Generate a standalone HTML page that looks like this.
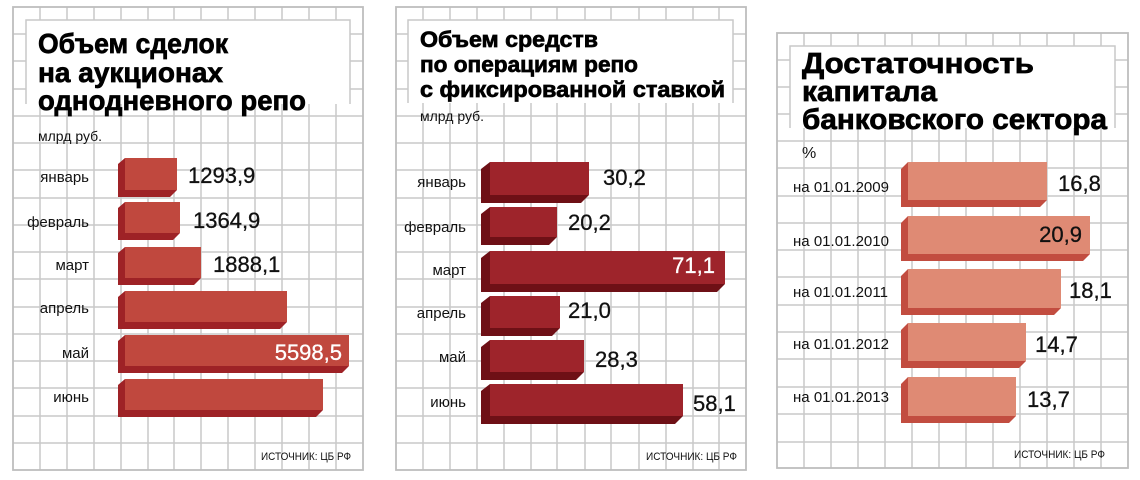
<!DOCTYPE html>
<html><head><meta charset="utf-8"><style>
html,body{margin:0;padding:0;background:#fff;}
svg{display:block;font-family:"Liberation Sans","DejaVu Sans",sans-serif;}
.g{stroke:#c9c9c9;stroke-width:1.5;fill:none;}
.b{stroke:#bdbdbd;stroke-width:1.8;fill:none;}
.t{font-weight:bold;fill:#000;stroke:#000;stroke-width:0.7;}
.l{font-size:15px;fill:#111;}
.v{font-size:22px;fill:#111;stroke:#111;stroke-width:0.3;}
.s{font-size:11px;fill:#111;}
</style></head><body>
<svg width="1140" height="480" viewBox="0 0 1140 480" xmlns="http://www.w3.org/2000/svg">
<rect width="1140" height="480" fill="#fff"/>
<path class="g" d="M40 7V470M67 7V470M94 7V470M121 7V470M148 7V470M174 7V470M201 7V470M228 7V470M255 7V470M282 7V470M309 7V470M336 7V470
M13 34H363M13 61H363M13 89H363M13 116H363M13 143H363M13 170H363M13 198H363M13 225H363M13 252H363M13 279H363M13 307H363M13 334H363M13 361H363M13 388H363M13 416H363M13 443H363"/>
<rect class="b" x="13" y="7" width="350" height="463"/>
<path class="g" d="M423 7V470M450 7V470M477 7V470M504 7V470M531 7V470M557 7V470M585 7V470M611 7V470M639 7V470M666 7V470M693 7V470M719 7V470
M396 34H746M396 61H746M396 89H746M396 116H746M396 143H746M396 170H746M396 198H746M396 225H746M396 252H746M396 279H746M396 307H746M396 334H746M396 361H746M396 388H746M396 416H746M396 443H746"/>
<rect class="b" x="396" y="7" width="350" height="463"/>
<path class="g" d="M804 33V468M831 33V468M858 33V468M885 33V468M912 33V468M939 33V468M966 33V468M993 33V468M1020 33V468M1047 33V468M1074 33V468M1101 33V468
M777 60H1128M777 87H1128M777 114H1128M777 141H1128M777 168H1128M777 196H1128M777 223H1128M777 250H1128M777 277H1128M777 305H1128M777 332H1128M777 359H1128M777 387H1128M777 414H1128M777 442H1128"/>
<rect class="b" x="777" y="33" width="351" height="435"/>

<rect x="26" y="20" width="324" height="84" fill="#fff"/>
<path d="M26 104V20H350V104" stroke="#c9c9c9" stroke-width="1.5" fill="none"/>
<rect x="408" y="20" width="325" height="83" fill="#fff"/>
<path d="M408 103V20H733V103" stroke="#c9c9c9" stroke-width="1.5" fill="none"/>
<rect x="790" y="46" width="325" height="82" fill="#fff"/>
<path d="M790 128V46H1115V128" stroke="#c9c9c9" stroke-width="1.5" fill="none"/>

<text class="t" font-size="28" x="38" y="53" textLength="190" lengthAdjust="spacingAndGlyphs">Объем сделок</text>
<text class="t" font-size="28" x="38" y="82" textLength="185" lengthAdjust="spacingAndGlyphs">на аукционах</text>
<text class="t" font-size="28" x="38" y="110" textLength="268" lengthAdjust="spacingAndGlyphs">однодневного репо</text>

<text class="t" font-size="22" x="420" y="47" textLength="178" lengthAdjust="spacingAndGlyphs">Объем средств</text>
<text class="t" font-size="22" x="420" y="72" textLength="218" lengthAdjust="spacingAndGlyphs">по операциям репо</text>
<text class="t" font-size="22" x="420" y="97" textLength="305" lengthAdjust="spacingAndGlyphs">с фиксированной ставкой</text>

<text class="t" font-size="29" x="802" y="73" textLength="232" lengthAdjust="spacingAndGlyphs">Достаточность</text>
<text class="t" font-size="29" x="802" y="101" textLength="135" lengthAdjust="spacingAndGlyphs">капитала</text>
<text class="t" font-size="29" x="802" y="129" textLength="305" lengthAdjust="spacingAndGlyphs">банковского сектора</text>

<text font-size="14" x="38" y="141" fill="#111">млрд руб.</text>
<text font-size="14" x="420" y="121" fill="#111">млрд руб.</text>
<text font-size="16" x="802" y="158" fill="#111">%</text>

<g fill="#9e2226">
<polygon points="118,164 125,158 125,190 177,190 170,197 118,197"/>
<polygon points="118,208 125,202 125,233 180,233 173,240 118,240"/>
<polygon points="118,253 125,247 125,278 201,278 194,285 118,285"/>
<polygon points="118,297 125,291 125,322 287,322 280,329 118,329"/>
<polygon points="118,341 125,335 125,366 349,366 342,373 118,373"/>
<polygon points="118,385 125,379 125,410 323,410 316,417 118,417"/>
</g>
<g fill="#c0483e">
<rect x="125" y="158" width="52" height="32"/>
<rect x="125" y="202" width="55" height="31"/>
<rect x="125" y="247" width="76" height="31"/>
<rect x="125" y="291" width="162" height="31"/>
<rect x="125" y="335" width="224" height="31"/>
<rect x="125" y="379" width="198" height="31"/>
</g>
<g class="l" text-anchor="end">
<text x="89" y="182">январь</text>
<text x="89" y="227">февраль</text>
<text x="89" y="270">март</text>
<text x="89" y="313">апрель</text>
<text x="89" y="358">май</text>
<text x="89" y="402">июнь</text>
</g>
<text class="v" x="188" y="183">1293,9</text>
<text class="v" x="193" y="228">1364,9</text>
<text class="v" x="213" y="272">1888,1</text>
<text class="v" x="342" y="360" text-anchor="end" style="fill:#fff;stroke:#fff">5598,5</text>
<text class="s" x="261" y="460" textLength="90" lengthAdjust="spacingAndGlyphs">ИСТОЧНИК: ЦБ РФ</text>

<g fill="#6e1016">
<polygon points="481,169 490,162 490,195 589,195 581,203 481,203"/>
<polygon points="481,214 490,207 490,237 557,237 549,245 481,245"/>
<polygon points="481,258 490,251 490,284 725,284 717,292 481,292"/>
<polygon points="481,303 490,296 490,328 560,328 552,336 481,336"/>
<polygon points="481,347 490,340 490,372 584,372 576,380 481,380"/>
<polygon points="481,391 490,384 490,416 683,416 675,424 481,424"/>
</g>
<g fill="#9e242b">
<rect x="490" y="162" width="99" height="33"/>
<rect x="490" y="207" width="67" height="30"/>
<rect x="490" y="251" width="235" height="33"/>
<rect x="490" y="296" width="70" height="32"/>
<rect x="490" y="340" width="94" height="32"/>
<rect x="490" y="384" width="193" height="32"/>
</g>
<g class="l" text-anchor="end">
<text x="466" y="187">январь</text>
<text x="466" y="232">февраль</text>
<text x="466" y="275">март</text>
<text x="466" y="318">апрель</text>
<text x="466" y="362">май</text>
<text x="466" y="407">июнь</text>
</g>
<text class="v" x="603" y="185">30,2</text>
<text class="v" x="568" y="230">20,2</text>
<text class="v" x="715" y="273" text-anchor="end" style="fill:#fff;stroke:#fff">71,1</text>
<text class="v" x="568" y="318">21,0</text>
<text class="v" x="595" y="367">28,3</text>
<text class="v" x="693" y="411">58,1</text>
<text class="s" x="646" y="460" textLength="91" lengthAdjust="spacingAndGlyphs">ИСТОЧНИК: ЦБ РФ</text>

<g fill="#c24d40">
<polygon points="901,169 908,162 908,200 1047,200 1040,207 901,207"/>
<polygon points="901,223 908,216 908,254 1090,254 1083,261 901,261"/>
<polygon points="901,276 908,269 908,308 1061,308 1054,315 901,315"/>
<polygon points="901,330 908,323 908,361 1026,361 1019,368 901,368"/>
<polygon points="901,384 908,377 908,416 1016,416 1009,423 901,423"/>
</g>
<g fill="#df8a74">
<rect x="908" y="162" width="139" height="38"/>
<rect x="908" y="216" width="182" height="38"/>
<rect x="908" y="269" width="153" height="39"/>
<rect x="908" y="323" width="118" height="38"/>
<rect x="908" y="377" width="108" height="39"/>
</g>
<g class="l">
<text x="793" y="192" textLength="96" lengthAdjust="spacingAndGlyphs">на 01.01.2009</text>
<text x="793" y="246" textLength="96" lengthAdjust="spacingAndGlyphs">на 01.01.2010</text>
<text x="793" y="297" textLength="95" lengthAdjust="spacingAndGlyphs">на 01.01.2011</text>
<text x="793" y="349" textLength="96" lengthAdjust="spacingAndGlyphs">на 01.01.2012</text>
<text x="793" y="402" textLength="96" lengthAdjust="spacingAndGlyphs">на 01.01.2013</text>
</g>
<text class="v" x="1058" y="191">16,8</text>
<text class="v" x="1082" y="242" text-anchor="end">20,9</text>
<text class="v" x="1069" y="298">18,1</text>
<text class="v" x="1035" y="352">14,7</text>
<text class="v" x="1027" y="407">13,7</text>
<text class="s" x="1014" y="458" textLength="91" lengthAdjust="spacingAndGlyphs">ИСТОЧНИК: ЦБ РФ</text>
</svg>
</body></html>
